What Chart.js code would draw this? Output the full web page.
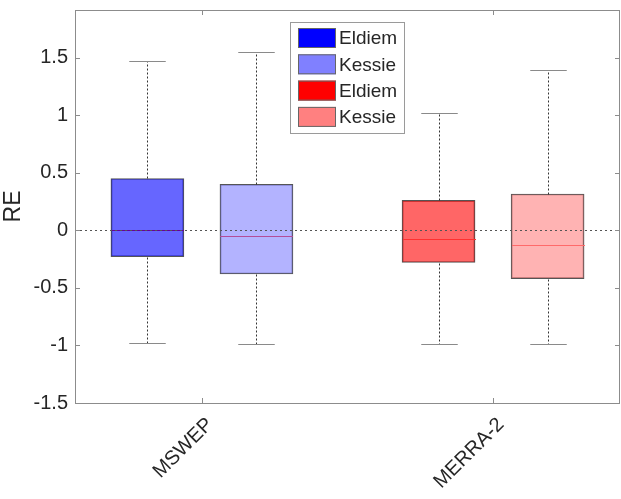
<!DOCTYPE html>
<html>
<head>
<meta charset="utf-8">
<script src="https://cdn.jsdelivr.net/npm/chart.js@4.4.0/dist/chart.umd.min.js"></script>
<style>
    html, body { margin: 0; padding: 0; background: #fff; }
    #wrap { width: 621px; height: 499px; }
</style>
</head>
<body>
<div id="wrap"><canvas id="boxChart"></canvas></div>
<script>
const groups = ['MSWEP', 'MERRA-2'];
const seriesNames = ['Eldiem', 'Kessie', 'Eldiem', 'Kessie'];
// each: [lower whisker, q1, median, q3, upper whisker]
const mswepEldiem = [-0.98, -0.23, 0.00, 0.45, 1.47];
const mswepKessie = [-0.99, -0.38, -0.05, 0.40, 1.55];
const merraEldiem = [-0.99, -0.28, -0.075, 0.26, 1.02];
const merraKessie = [-0.99, -0.42, -0.125, 0.315, 1.39];
const yTicks = [-1.5, -1, -0.5, 0, 0.5, 1, 1.5];

const textColor = '#262626';
const frameColor = '#8c8c8c';
Chart.defaults.font.family = '"Liberation Sans", Arial, sans-serif';

// group index, side of the group, legend colour, box fill, median colour
const boxes = [
    { stats: mswepEldiem, group: 0, side: -1, color: '#0000ff', fill: 'rgba(0,0,255,0.6)', median: '#660099' },
    { stats: mswepKessie, group: 0, side: 1, color: '#8080ff', fill: 'rgba(128,128,255,0.6)', median: '#b34d99' },
    { stats: merraEldiem, group: 1, side: -1, color: '#ff0000', fill: 'rgba(255,0,0,0.6)', median: '#ff3030' },
    { stats: merraKessie, group: 1, side: 1, color: '#ff8080', fill: 'rgba(255,128,128,0.6)', median: '#ff6a6a' }
];
const sideOffset = 0.1873;

const datasets = boxes.map((b, i) => ({
    label: seriesNames[i],
    data: [{ x: b.group + 1 + b.side * sideOffset, y: [b.stats[1], b.stats[3]] }],
    backgroundColor: b.fill,
    borderColor: '#555555',
    borderWidth: 1,
    borderSkipped: false,
    barThickness: 73,
    grouped: false,
    stats: b.stats,
    medianColor: b.median,
    legendColor: b.color
}));

// whiskers, caps, medians, zero line, frame and the inside legend
const boxExtras = {
    id: 'boxExtras',
    afterDatasetsDraw(chart) {
        const ctx = chart.ctx;
        const y = chart.scales.y;
        const x = chart.scales.x;
        const area = chart.chartArea;
        ctx.save();
        chart.data.datasets.forEach((ds, i) => {
            const bar = chart.getDatasetMeta(i).data[0];
            const cx = Math.round(bar.x) + 0.5;
            const w = bar.width;
            const s = ds.stats;
            const py = v => Math.round(y.getPixelForValue(v)) + 0.5;

            // dotted whiskers
            ctx.strokeStyle = '#333333';
            ctx.lineWidth = 1;
            ctx.setLineDash([2, 2]);
            ctx.beginPath();
            ctx.moveTo(cx, py(s[3]));
            ctx.lineTo(cx, py(s[4]));
            ctx.moveTo(cx, py(s[1]));
            ctx.lineTo(cx, py(s[0]));
            ctx.stroke();

            // caps
            ctx.setLineDash([]);
            ctx.strokeStyle = '#8a8a8a';
            ctx.beginPath();
            ctx.moveTo(cx - w / 4, py(s[4]));
            ctx.lineTo(cx + w / 4, py(s[4]));
            ctx.moveTo(cx - w / 4, py(s[0]));
            ctx.lineTo(cx + w / 4, py(s[0]));
            ctx.stroke();

            // median
            ctx.strokeStyle = ds.medianColor;
            ctx.beginPath();
            ctx.moveTo(cx - w / 2, py(s[2]));
            ctx.lineTo(cx + w / 2, py(s[2]));
            ctx.stroke();
        });

        // zero reference line
        const y0 = Math.round(y.getPixelForValue(0)) + 0.5;
        ctx.strokeStyle = '#555555';
        ctx.setLineDash([2, 3]);
        ctx.beginPath();
        ctx.moveTo(area.left, y0);
        ctx.lineTo(area.right, y0);
        ctx.stroke();
        ctx.setLineDash([]);

        // frame and inward ticks
        ctx.strokeStyle = frameColor;
        ctx.strokeRect(area.left + 0.5, area.top + 0.5, area.right - area.left - 1, area.bottom - area.top);
        ctx.beginPath();
        y.ticks.forEach(t => {
            const p = Math.round(y.getPixelForValue(t.value)) + 0.5;
            ctx.moveTo(area.left, p); ctx.lineTo(area.left + 5, p);
            ctx.moveTo(area.right, p); ctx.lineTo(area.right - 5, p);
        });
        x.ticks.forEach(t => {
            const p = Math.round(x.getPixelForValue(t.value)) + 0.5;
            ctx.moveTo(p, area.top); ctx.lineTo(p, area.top + 5);
            ctx.moveTo(p, area.bottom); ctx.lineTo(p, area.bottom - 5);
        });
        ctx.stroke();

        // legend
        const lx = 290, ly = 22, lw = 114, lh = 111;
        ctx.fillStyle = '#ffffff';
        ctx.fillRect(lx, ly, lw, lh);
        ctx.strokeStyle = '#9a9a9a';
        ctx.strokeRect(lx + 0.5, ly + 0.5, lw, lh);
        ctx.font = '19px "Liberation Sans", Arial, sans-serif';
        ctx.textBaseline = 'middle';
        chart.data.datasets.forEach((ds, i) => {
            const ry = ly + 6 + i * 26.3;
            ctx.fillStyle = ds.legendColor;
            ctx.fillRect(lx + 8, ry, 38, 20);
            ctx.strokeStyle = '#666666';
            ctx.strokeRect(lx + 8.5, ry + 0.5, 37, 19);
            ctx.fillStyle = textColor;
            ctx.fillText(ds.label, lx + 49, ry + 11);
        });
        ctx.restore();
    }
};

new Chart(document.getElementById('boxChart'), {
    type: 'bar',
    data: { datasets: datasets },
    options: {
        responsive: true,
        maintainAspectRatio: false,
        animation: false,
        layout: { padding: { top: 10, right: 1, left: 0, bottom: 0 } },
        plugins: {
            legend: { display: false },
            tooltip: { enabled: false }
        },
        scales: {
            x: {
                type: 'linear',
                offset: false,
                min: 0.564,
                max: 2.436,
                afterBuildTicks: s => { s.ticks = groups.map((g, i) => ({ value: i + 1 })); },
                afterFit: s => { s.height = 96; s.paddingLeft = 0; s.paddingRight = 0; },
                grid: { display: false, drawTicks: false },
                border: { display: false },
                ticks: {
                    autoSkip: false,
                    minRotation: 45,
                    maxRotation: 45,
                    padding: 10,
                    labelOffset: 8,
                    color: textColor,
                    font: { size: 20 },
                    callback: (v, i) => groups[i]
                }
            },
            y: {
                min: -1.5,
                max: 1.913,
                afterBuildTicks: s => { s.ticks = yTicks.map(v => ({ value: v })); },
                afterFit: s => { s.width = 75; s.paddingTop = 0; s.paddingBottom = 0; },
                grid: { display: false, drawTicks: false },
                border: { display: false },
                ticks: {
                    padding: 7,
                    color: textColor,
                    font: { size: 20 },
                    callback: v => String(v)
                },
                title: {
                    display: true,
                    text: 'RE',
                    color: textColor,
                    font: { size: 23 },
                    padding: 0
                }
            }
        }
    },
    plugins: [boxExtras]
});
</script>
</body>
</html>
